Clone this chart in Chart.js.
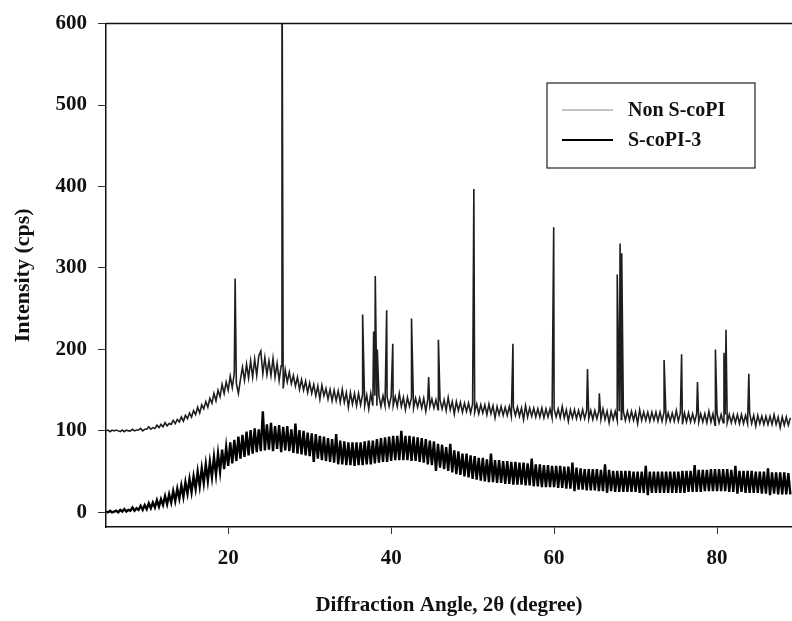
<!DOCTYPE html>
<html><head><meta charset="utf-8">
<script src="https://cdn.jsdelivr.net/npm/chart.js@4"></script>
<style>html,body{margin:0;padding:0;background:#fff}#wrap{width:792px;height:621px;position:relative}</style>
</head><body><div id="wrap"><canvas id="c"></canvas></div>
<script>
const seriesNames = ['Non S-coPI', 'S-coPI-3'];
const scanStart = 5;      // degrees 2θ
const scanStep = 0.25;    // degrees per sample
// Non S-coPI: background counts, 4 samples per degree from 5° to 89°
const nonScopiBase = [
100,101,99,101, 100,101,100,99, 101,99,101,100, 100,102,100,101, 101,103,100,102,
102,105,102,104, 103,107,104,108, 105,110,106,109, 108,113,109,114, 111,117,112,119,
115,122,117,125, 120,129,122,132, 127,136,129,140, 134,146,137,150, 142,157,146,160,
150,167,153,171, 158,146,163,178, 162,182,165,186, 166,188,168,192, 198,170,190,169,
186,168,189,166, 183,162,180,152, 175,160,172,158, 168,155,166,151, 163,150,161,147,
159,146,157,143, 155,139,156,143, 152,139,151,137, 150,137,149,135, 151,135,147,129,
147,133,146,131, 146,132,145,131, 144,127,146,131, 143,131,143,130, 143,131,142,130,
142,131,142,130, 146,130,141,126, 141,130,141,128, 140,129,140,128, 140,124,139,130,
139,128,138,126, 138,127,138,125, 141,126,136,121, 136,125,135,123, 134,124,134,122,
133,123,133,121, 132,122,132,120, 133,121,131,116, 130,120,130,119, 129,119,130,118,
129,119,129,118, 128,114,131,117, 128,118,128,117, 127,117,128,116, 127,117,127,116,
127,117,127,116, 130,116,126,112, 126,116,126,115, 125,115,126,115, 125,115,125,114,
125,115,125,114, 127,114,124,110, 124,114,124,113, 124,114,124,113, 124,113,124,113,
123,109,126,113, 123,113,123,112, 123,113,123,112, 123,112,123,112, 122,112,122,112,
125,112,122,108, 122,111,122,111, 121,111,121,111, 121,111,121,110, 124,111,121,107,
121,110,120,110, 120,110,120,110, 120,110,120,109, 120,109,119,109, 122,109,119,106,
119,109,118,108, 118,108,118,108, 120,108,117,104, 117,107,117,107, 116
];
// Non S-coPI crystalline reflections
const nonScopiPeakAngles  = [20.85, 26.6, 36.5, 37.85, 38.05, 38.3, 39.45, 40.2, 42.5, 44.6, 45.8, 50.15, 54.95, 59.95, 64.1, 65.55, 67.75, 68.1, 68.3, 73.5, 75.65, 77.6, 79.8, 80.85, 81.1, 83.9];
const nonScopiPeakHeights = [287,   720,  243,  222,   290,   200,  248,   207,  238,  166,  212,  397,   207,   350,   176,  146,   292,   330,  318,  187,  194,   160,  200,  196,   224,  170];
// S-coPI-3 counts, 4 samples per degree from 5° to 89°
const scopi3 = [
1,0,2,0, 1,2,0,3, 1,4,1,3, 2,6,2,5, 3,8,3,9,
4,11,5,12, 6,15,7,16, 9,20,10,22, 12,26,14,29, 17,33,19,37,
23,41,25,44, 29,50,32,54, 36,59,39,62, 43,68,46,72, 50,77,53,80,
57,86,60,89, 63,93,66,95, 68,99,70,101, 72,103,74,102, 75,124,76,108,
77,110,75,106, 78,107,74,105, 76,106,75,102, 73,109,72,101, 71,100,70,98,
69,97,62,96, 66,94,64,93, 63,91,62,90, 61,96,59,88, 59,87,58,86,
58,86,57,86, 58,86,58,87, 59,88,59,88, 60,90,61,91, 62,92,62,93,
63,94,64,94, 64,100,64,94, 64,94,63,93, 63,92,62,91, 61,90,59,88,
58,87,51,84, 55,83,53,80, 51,84,49,76, 47,75,46,72, 44,72,43,70,
41,69,40,67, 39,67,38,65, 37,72,37,64, 36,64,36,63, 35,63,35,62,
34,62,34,61, 34,61,33,60, 33,66,32,59, 32,59,31,58, 31,58,31,57,
31,57,30,57, 30,56,29,56, 29,61,26,55, 28,54,28,53, 27,53,27,53,
27,53,26,52, 26,59,24,52, 26,51,25,51, 25,51,25,51, 25,51,25,50,
25,50,24,50, 24,57,21,50, 24,50,24,50, 24,50,24,50, 24,50,24,50,
24,50,24,51, 24,51,25,51, 25,58,25,52, 25,52,26,52, 26,53,26,53,
26,53,26,53, 26,53,25,52, 25,57,23,51, 25,51,24,51, 24,51,24,50,
24,50,23,50, 23,54,21,49, 23,49,22,49, 22,49,22,48, 22
];
const xTickValues = [20, 40, 60, 80];
const yTickValues = [0, 100, 200, 300, 400, 500, 600];

const toPoints = arr => arr.map((v, i) => ({x: scanStart + i * scanStep, y: v}));
const nonScopiPts = toPoints(nonScopiBase)
  .concat(nonScopiPeakAngles.map((a, i) => ({x: a, y: nonScopiPeakHeights[i]})))
  .sort((p, q) => p.x - q.x);
const scopi3Pts = toPoints(scopi3);

const serif = 'Liberation Serif, Times New Roman, serif';
const legendLine = ['#8a8a8a', '#000'];
const legendWidth = [1, 2];

const frame = {
  id: 'frame',
  afterDraw(chart) {
    const {ctx, chartArea: a} = chart;
    ctx.save();
    ctx.strokeStyle = '#111';
    ctx.lineWidth = 1.5;
    ctx.beginPath();
    ctx.moveTo(a.left, a.top);
    ctx.lineTo(a.right, a.top);
    ctx.stroke();
    // legend box
    const bx = 547, by = 83, bw = 208, bh = 85;
    ctx.fillStyle = '#fff';
    ctx.fillRect(bx, by, bw, bh);
    ctx.lineWidth = 1.2;
    ctx.strokeStyle = '#222';
    ctx.strokeRect(bx, by, bw, bh);
    ctx.font = 'bold 20px ' + serif;
    ctx.textBaseline = 'middle';
    ctx.fillStyle = '#111';
    chart.data.datasets.forEach((ds, i) => {
      const y = by + 27 + i * 30;
      ctx.strokeStyle = legendLine[i];
      ctx.lineWidth = legendWidth[i];
      ctx.beginPath();
      ctx.moveTo(bx + 15, y);
      ctx.lineTo(bx + 66, y);
      ctx.stroke();
      ctx.fillText(ds.label, bx + 81, y + 1);
    });
    ctx.restore();
  }
};

new Chart(document.getElementById('c'), {
  type: 'line',
  data: {
    datasets: [
      {label: seriesNames[0], data: nonScopiPts, borderColor: '#1e1e1e', borderWidth: 1.6, pointRadius: 0, tension: 0},
      {label: seriesNames[1], data: scopi3Pts, borderColor: '#000', borderWidth: 2.4, pointRadius: 0, tension: 0}
    ]
  },
  options: {
    responsive: true,
    maintainAspectRatio: false,
    animation: false,
    layout: {padding: {top: 21, right: 0, left: 0, bottom: 0}},
    plugins: {legend: {display: false}, tooltip: {enabled: false}},
    scales: {
      x: {
        type: 'linear', min: 5, max: 89.2,
        afterBuildTicks: s => { s.ticks = xTickValues.map(v => ({value: v})); },
        afterFit: s => { s.height = 94; },
        grid: {display: true, drawOnChartArea: false, drawTicks: true, tickLength: 7, color: '#333'},
        border: {display: true, color: '#111', width: 1.5},
        ticks: {color: '#111', font: {family: serif, size: 21, weight: 'bold'}, padding: 12, maxRotation: 0},
        title: {display: true, text: 'Diffraction Angle, 2θ (degree)', color: '#111', font: {family: serif, size: 21, weight: 'bold'}, padding: {top: 10, bottom: 3}}
      },
      y: {
        min: -18, max: 600,
        afterBuildTicks: s => { s.ticks = yTickValues.map(v => ({value: v})); },
        afterFit: s => { s.width = 106; },
        grid: {display: true, drawOnChartArea: false, drawTicks: true, tickLength: 8, color: '#333'},
        border: {display: true, color: '#111', width: 1.5},
        ticks: {color: '#111', font: {family: serif, size: 21, weight: 'bold'}, padding: 11},
        title: {display: true, text: 'Intensity (cps)', color: '#111', font: {family: serif, size: 22, weight: 'bold'}, padding: {top: 10, bottom: 0}}
      }
    }
  },
  plugins: [frame]
});
</script>
</body></html>
